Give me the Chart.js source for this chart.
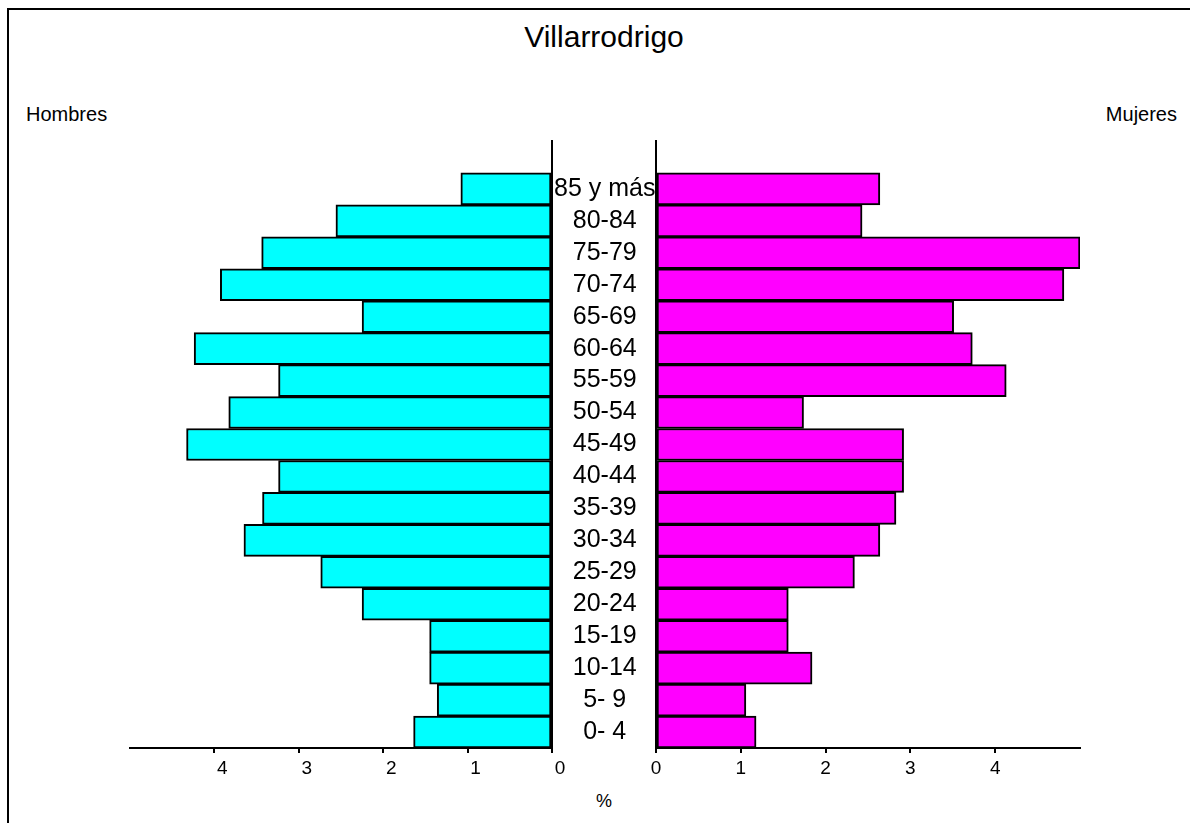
<!DOCTYPE html>
<html lang="es">
<head>
<meta charset="utf-8">
<title>Villarrodrigo</title>
<script src="https://cdn.jsdelivr.net/npm/chart.js@4/dist/chart.umd.min.js"></script>
<style>
  body { margin: 0; background: #fff; width: 1190px; height: 823px; overflow: hidden; position: relative; font-family: "Liberation Sans", Arial, sans-serif; }
  .marco { position: absolute; left: 7px; top: 8px; width: 1300px; height: 900px; border-left: 2px solid #000; border-top: 2px solid #000; }
  canvas { position: absolute; top: 0; }
  .texto { position: absolute; color: #000; white-space: nowrap; }
  #titulo { left: 0; width: 1208px; top: 20px; text-align: center; font-size: 30px; }
  #hombres { left: 26px; top: 103px; font-size: 20px; }
  #mujeres { right: 13px; top: 103px; font-size: 20px; }
  #porcentaje { left: 0; width: 1208px; top: 791px; text-align: center; font-size: 18px; }
</style>
</head>
<body>
<div class="marco"></div>
<div class="texto" id="titulo">Villarrodrigo</div>
<div class="texto" id="hombres">Hombres</div>
<div class="texto" id="mujeres">Mujeres</div>
<div class="texto" id="porcentaje">%</div>
<canvas id="graficoHombres" width="656" height="823" style="left:0"></canvas>
<canvas id="graficoMujeres" width="590" height="823" style="left:600px"></canvas>
<script>
// Grupos de edad, de arriba abajo
const grupos = ['85 y más', '80-84', '75-79', '70-74', '65-69', '60-64', '55-59', '50-54', '45-49',
                '40-44', '35-39', '30-34', '25-29', '20-24', '15-19', '10-14', '5- 9', '0- 4'];

// Porcentaje de población por grupo
const hombres = [1.08, 2.56, 3.44, 3.93, 2.25, 4.24, 3.24, 3.83, 4.33,
                 3.24, 3.43, 3.65, 2.74, 2.25, 1.45, 1.45, 1.36, 1.64];
const mujeres = [2.64, 2.43, 5.00, 4.81, 3.51, 3.73, 4.13, 1.74, 2.92,
                 2.92, 2.83, 2.64, 2.34, 1.56, 1.56, 1.84, 1.06, 1.18];

// Eje de porcentaje
const maximoEje = 5;
const pasoEje = 1;

const fuente = '"Liberation Sans", Arial, sans-serif';
Chart.defaults.font.family = fuente;
Chart.defaults.color = '#000';

// Hueco vacío encima de "85 y más"
const etiquetas = [''].concat(grupos);

// Eje X común a las dos mitades
function ejeX(invertido, desplazamiento) {
  return {
    type: 'linear',
    reverse: invertido,
    min: 0,
    max: maximoEje,
    afterBuildTicks: function(eje) {
      eje.ticks = eje.ticks.filter(function(t) { return t.value < maximoEje; }); // sin marca en el 5
    },
    afterFit: function(eje) { eje.height = 40; },
    ticks: { stepSize: pasoEje, labelOffset: desplazamiento, padding: 4, font: { size: 19 }, color: '#000' },
    grid: { drawOnChartArea: false, drawTicks: true, tickLength: 5, color: '#000', lineWidth: 2 },
    border: { display: true, color: '#000', width: 2 }
  };
}

function crearPiramide(ctx, datos, color, invertido, opcionesY, relleno, desplazamiento) {
  return new Chart(ctx, {
    type: 'bar',
    data: {
      labels: etiquetas,
      datasets: [{
        data: [null].concat(datos),
        backgroundColor: color,
        borderColor: '#000',
        borderWidth: 2,
        borderSkipped: false,
        barPercentage: 1,
        categoryPercentage: 1
      }]
    },
    options: {
      indexAxis: 'y',
      responsive: false,
      animation: false,
      layout: { padding: relleno },
      scales: {
        x: ejeX(invertido, desplazamiento),
        y: opcionesY
      },
      plugins: {
        legend: { display: false },
        tooltip: { enabled: false }
      }
    }
  });
}

// Hombres: eje invertido y etiquetas de edad en el centro
crearPiramide(
  document.getElementById('graficoHombres').getContext('2d'),
  hombres, '#00FFFF', true,
  {
    position: 'right',
    afterFit: function(eje) { eje.width = 104; },
    ticks: { crossAlign: 'center', padding: 2, autoSkip: false, font: { size: 25 }, color: '#000' },
    grid: { drawOnChartArea: false, drawTicks: false },
    border: { display: true, color: '#000', width: 2 }
  },
  { top: 141, left: 130, right: 0, bottom: 35 }, 8
);

// Mujeres
crearPiramide(
  document.getElementById('graficoMujeres').getContext('2d'),
  mujeres, '#FF00FF', false,
  {
    position: 'left',
    afterFit: function(eje) { eje.width = 0; },
    ticks: { display: false },
    grid: { drawOnChartArea: false, drawTicks: false },
    border: { display: true, color: '#000', width: 2 }
  },
  { top: 141, left: 56, right: 110, bottom: 35 }, 0
);
</script>
</body>
</html>
